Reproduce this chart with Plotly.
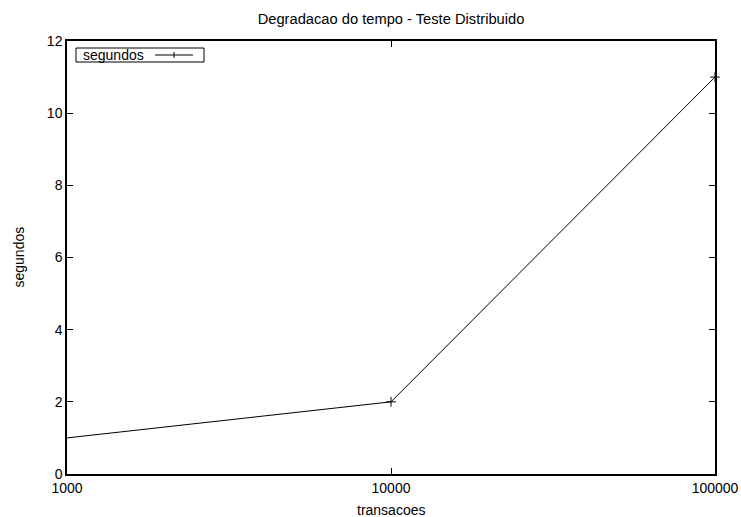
import plotly.graph_objects as go

transacoes = [1000, 10000, 100000]
segundos = [1, 2, 11]
x_ticks = [1000, 10000, 100000]
y_ticks = [0, 2, 4, 6, 8, 10, 12]

FONT = "Liberation Sans, Arial, sans-serif"

fig = go.Figure()
fig.add_trace(go.Scatter(
    x=transacoes, y=segundos, mode="lines+markers", name="segundos",
    line=dict(color="black", width=1),
    marker=dict(symbol="cross-thin", size=7, line=dict(color="black", width=1)),
    cliponaxis=False,
    showlegend=False,
))

# gnuplot-style legend (text then line sample)
L = 67; W = 648; T = 41; H = 433
def px(x): return (x - L) / W
def py(y): return (T + H - y) / H

shapes = [
    dict(type="rect", xref="paper", yref="paper", x0=px(76), x1=px(204), y0=py(62), y1=py(48),
         line=dict(color="black", width=1)),
    dict(type="line", xref="paper", yref="paper", x0=px(155), x1=px(193), y0=py(55), y1=py(55),
         line=dict(color="black", width=1)),
    dict(type="line", xref="paper", yref="paper", x0=px(174), x1=px(174), y0=py(52), y1=py(58),
         line=dict(color="black", width=1)),
]

annotations = [
    dict(text="segundos", xref="paper", yref="paper", x=px(81), y=py(55),
         xanchor="left", yanchor="middle", showarrow=False, font=dict(size=14, family=FONT)),
    dict(text="transacoes", xref="paper", yref="paper", x=0.5, y=py(510),
         xanchor="center", yanchor="middle", showarrow=False, font=dict(size=14, family=FONT)),
    dict(text="segundos", xref="paper", yref="paper", x=px(18), y=0.5, textangle=-90,
         xanchor="center", yanchor="middle", showarrow=False, font=dict(size=14, family=FONT)),
]

fig.update_layout(
    width=741, height=517,
    margin=dict(l=67, r=26, t=41, b=43, autoexpand=False),
    paper_bgcolor="white", plot_bgcolor="white",
    font=dict(family=FONT, color="black", size=14),
    title=dict(text="Degradacao do tempo - Teste Distribuido", x=0.5 * (67 + 715) / 741,
               xanchor="center", y=1 - 19 / 517, yanchor="middle",
               font=dict(size=14.7, family=FONT)),
    shapes=shapes,
    annotations=annotations,
    xaxis=dict(
        type="log", range=[3, 5], tickvals=x_ticks, ticktext=[str(v) for v in x_ticks],
        ticks="inside", ticklen=6, tickcolor="black", tickwidth=1,
        showline=True, linecolor="black", linewidth=1.5, mirror="ticks",
        showgrid=False, zeroline=False, automargin=False,
        tickfont=dict(size=14),
    ),
    yaxis=dict(
        range=[0, 12], tickvals=y_ticks,
        ticks="inside", ticklen=6, tickcolor="black", tickwidth=1,
        showline=True, linecolor="black", linewidth=1.5, mirror="ticks",
        showgrid=False, zeroline=False, automargin=False,
        tickfont=dict(size=14),
    ),
)

fig.write_html(
    "out.html",
    config={"displayModeBar": False},
    post_script="document.body.style.margin='0';document.body.style.padding='0';"
                "document.documentElement.style.overflow='hidden';",
)
